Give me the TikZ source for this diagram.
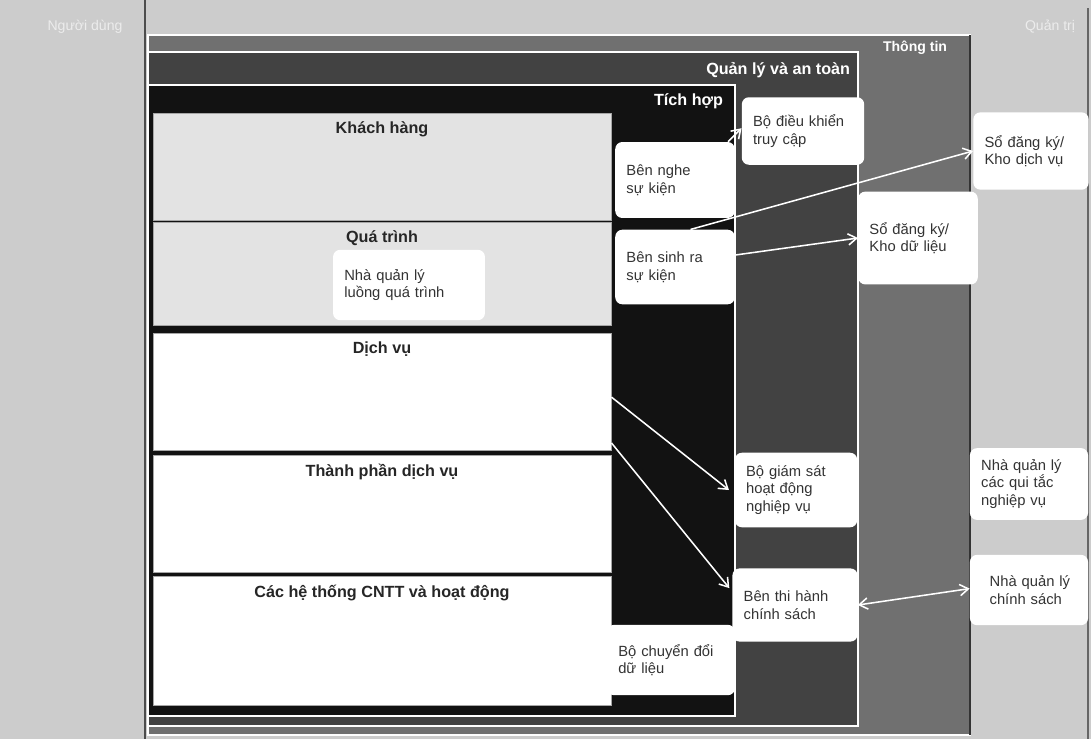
\documentclass[tikz,border=0pt]{standalone}
\usepackage{fontspec}
\setmainfont{Liberation Sans}
\usetikzlibrary{positioning,arrows.meta}
\definecolor{nenxam}{gray}{0.80}
\definecolor{thongtin}{gray}{0.44}
\definecolor{quanly}{gray}{0.26}
\definecolor{tichhop}{gray}{0.07}
\definecolor{lopxam}{gray}{0.89}
\tikzset{
  khoi/.style={fill=white, rounded corners=5pt, align=left, inner xsep=8pt,
    font=\fontsize{10.5}{12.5}\selectfont, text=black!80},
  lop/.style={draw=gray!70, minimum width=326pt, inner sep=0pt},
  tieude/.style={font=\bfseries\fontsize{11.5}{13}\selectfont, text=black!85},
  nhan/.style={font=\bfseries\fontsize{11.5}{13}\selectfont, text=white, anchor=east},
  muiten/.style={draw=white, line width=1.1pt, -{Straight Barb[length=6pt,width=8pt]}},
}
\begin{document}
\begin{tikzpicture}[x=0.025cm, y=-0.025cm]
    \useasboundingbox (0,0) rectangle (1091,739);
    % Nền và khung ngoài
    \fill[nenxam] (0,0) rectangle (1091,739);
    \draw[black!70, line width=2pt] (145,0) -- (145,739);
    \draw[black!60, line width=1.5pt] (1088,8) -- (1088,739);
    \node[font=\fontsize{10}{12}\selectfont, text=white!85!gray] at (85,27) {Người dùng};
    \node[font=\fontsize{10}{12}\selectfont, text=white!85!gray] at (1050,27) {Quản trị};
    % Các tầng lồng nhau
    \filldraw[fill=thongtin, draw=white, line width=1pt] (148,35) rectangle (970,735);
    \draw[black!80, line width=2pt] (970,35) -- (970,735);
    \filldraw[fill=quanly, draw=white, line width=1pt] (148,52) rectangle (858,726);
    \filldraw[fill=tichhop, draw=white, line width=1pt] (148,85) rectangle (735,716);
    \node[nhan, font=\bfseries\fontsize{10}{12}\selectfont] at (952,48) {Thông tin};
    \node[nhan] at (855,70) {Quản lý và an toàn};
    \node[nhan] at (728,101) {Tích hợp};
    % Các lớp bên trái
    \foreach \ten/\cy/\h/\mau/\chu in {kh/166.5/76/lopxam/Khách hàng,
        qt/273.5/73/lopxam/Quá trình, dv/391.5/83/white/Dịch vụ,
        tp/513.5/83/white/Thành phần dịch vụ,
        ht/641/92/white/Các hệ thống CNTT và hoạt động}{
      \node[lop, fill=\mau, minimum height=\h pt] (\ten) at (382,\cy) {};
      \node[tieude, below=3pt of \ten.north] {\chu};
    }
    % Các thành phần
    \node[khoi, text width=92pt, minimum height=50pt] (luong) at (409,285)
        {Nhà quản lý\\luồng quá trình};
    \node[khoi, text width=69pt, minimum height=54pt] (nghe) at (675,180)
        {Bên nghe\\sự kiện};
    \node[khoi, text width=69pt, minimum height=53pt] (sinhra) at (675,267)
        {Bên sinh ra\\sự kiện};
    \node[khoi, text width=71pt, minimum height=48pt] (dieukhien) at (803,131)
        {Bộ điều khiển\\truy cập\\[6pt]};
    \node[khoi, text width=69pt, minimum height=66pt] (khodl) at (918,238)
        {Sổ đăng ký/\\Kho dữ liệu};
    \node[khoi, text width=66pt, minimum height=55pt] (khodv) at (1031,151)
        {Sổ đăng ký/\\Kho dịch vụ};
    \node[khoi, text width=71pt, minimum height=53pt] (giamsat) at (796,490)
        {Bộ giám sát\\hoạt động\\nghiệp vụ};
    \node[khoi, text width=73pt, minimum height=52pt] (thihanh) at (795,605)
        {Bên thi hành\\chính sách};
    \node[khoi, text width=68pt, minimum height=51pt] (quitac) at (1029,484)
        {Nhà quản lý\\các qui tắc\\nghiệp vụ};
    \node[khoi, text width=68pt, minimum height=50pt] (chinhsach) at (1029,590)
        {\hspace*{6pt}Nhà quản lý\\\hspace*{6pt}chính sách\\[4pt]};
    \node[khoi, text width=75pt, minimum height=50pt] (chuyendoi) at (671,660)
        {Bộ chuyển đổi\\dữ liệu};
    % Mũi tên
    \draw[muiten] ([xshift=-5pt]nghe.north east) -- ([yshift=2pt]dieukhien.west);
    \draw[muiten] ([xshift=11pt]sinhra.north) -- (khodv.west);
    \draw[muiten] ([yshift=8.5pt]sinhra.east) -- (khodl.west);
    \draw[muiten] ([yshift=-4pt]dv.east) -- ([xshift=-4pt]giamsat.west);
    \draw[muiten] ([yshift=-36.6pt]dv.east) -- ([xshift=-2pt, yshift=12pt]thihanh.west);
    \draw[muiten, {Straight Barb[length=6pt,width=8pt]}-{Straight Barb[length=6pt,width=8pt]}]
        (thihanh.east) -- ([yshift=1pt]chinhsach.west);
\end{tikzpicture}
\end{document}
